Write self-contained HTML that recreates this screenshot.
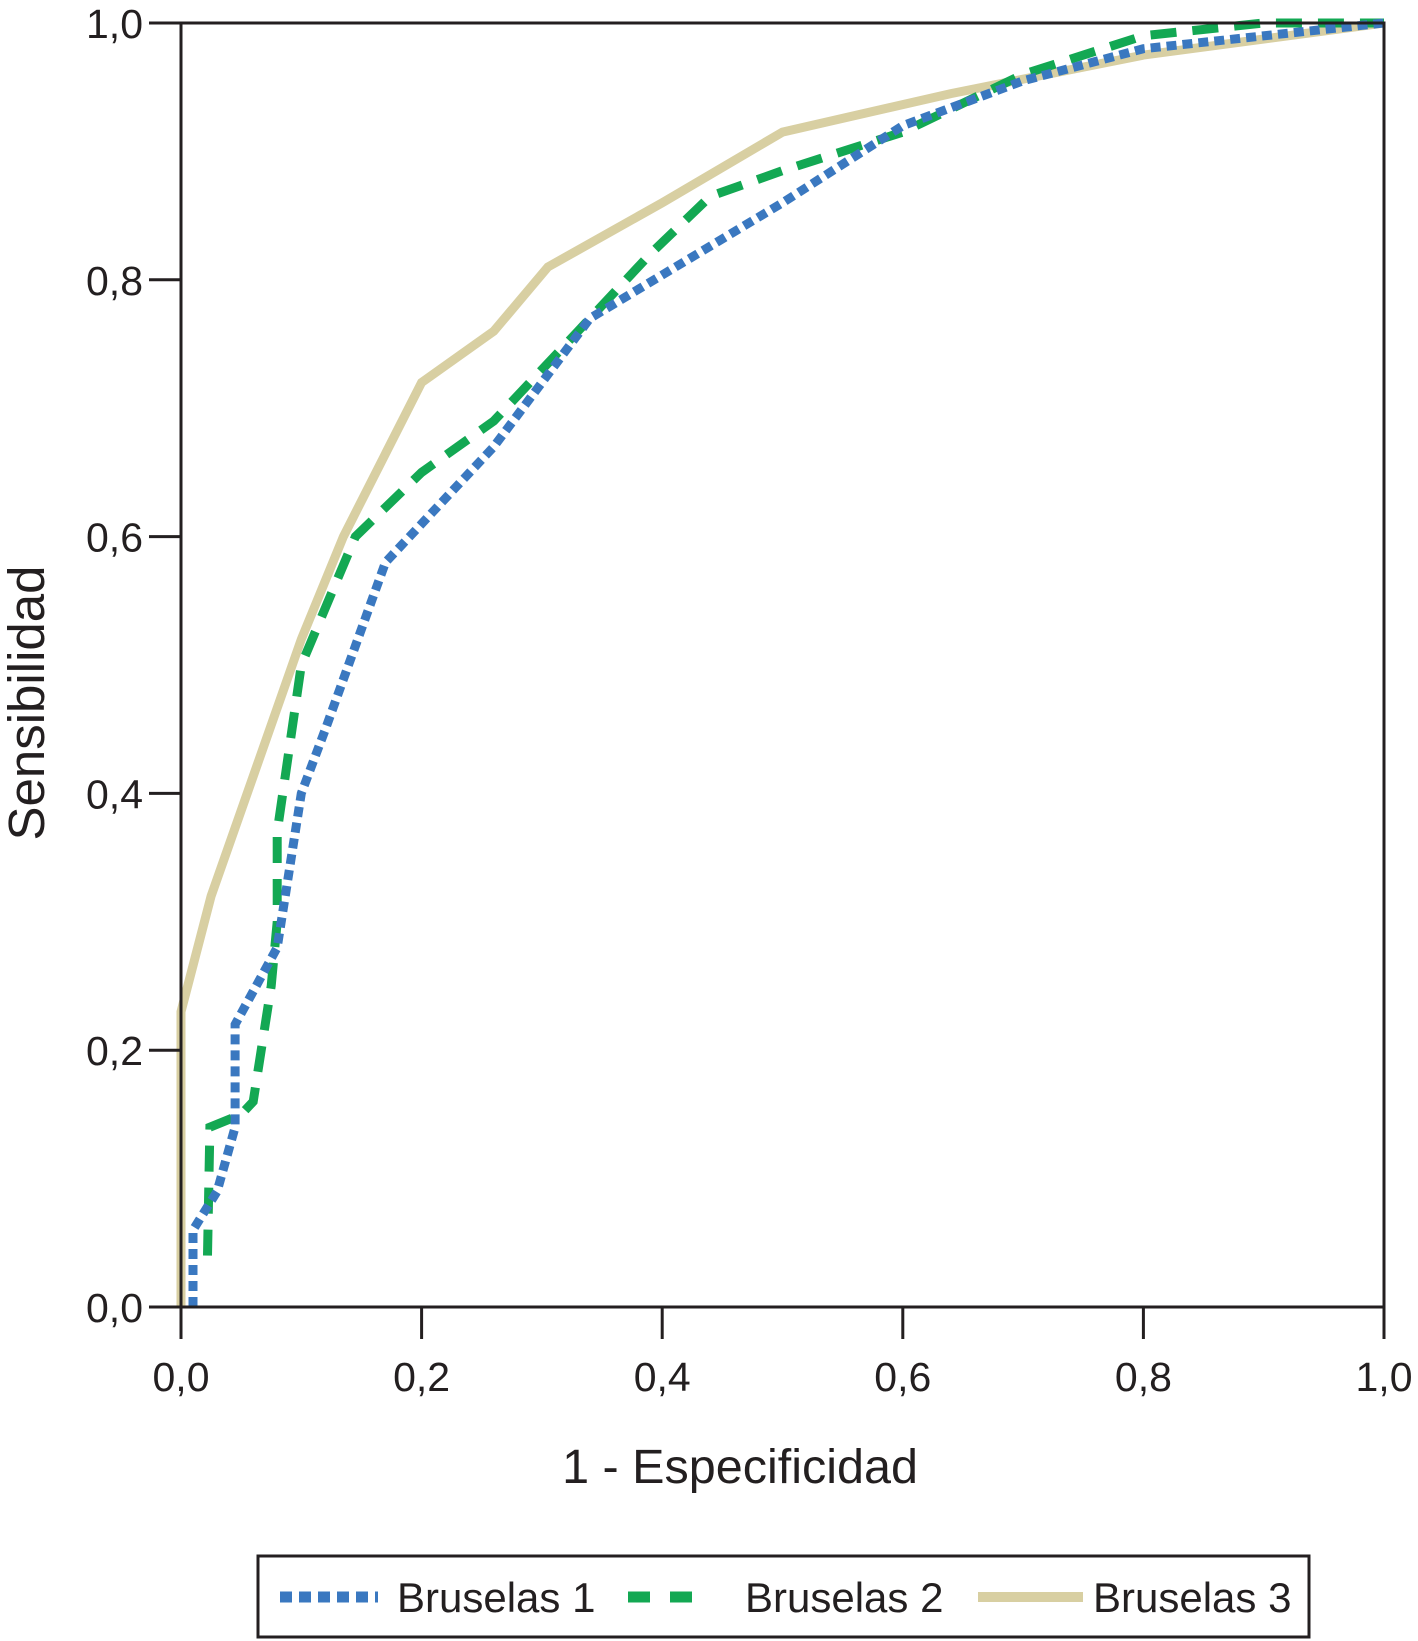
<!DOCTYPE html>
<html><head><meta charset="utf-8"><style>
html,body{margin:0;padding:0;background:#fff;}
svg{display:block;font-family:"Liberation Sans",Arial,sans-serif;}
</style></head><body>
<svg id="chart" width="1418" height="1641" viewBox="0 0 1418 1641">
<g id="plot"></g>
<g id="axes"></g>
<text x="740" y="1483" font-size="48.5" text-anchor="middle" fill="#231f20">1 - Especificidad</text>
<text transform="translate(44,703) rotate(-90)" font-size="51" text-anchor="middle" fill="#231f20">Sensibilidad</text>
<g>
<rect x="258" y="1556" width="1051" height="81" fill="#fff" stroke="#231f20" stroke-width="3"/>
<g>
<line x1="280" y1="1597" x2="378" y2="1597" stroke="#3a78c0" stroke-width="11" stroke-dasharray="12,7"/>
<text x="397" y="1612" font-size="42" fill="#231f20">Bruselas 1</text></g>
<g>
<line x1="628" y1="1597" x2="711" y2="1597" stroke="#13a853" stroke-width="11" stroke-dasharray="22,20"/>
<text x="745" y="1612" font-size="42" fill="#231f20">Bruselas 2</text></g>
<g>
<line x1="978" y1="1597" x2="1083" y2="1597" stroke="#d8cfa2" stroke-width="10"/>
<text x="1093" y="1612" font-size="42" fill="#231f20">Bruselas 3</text></g>
</g>
</svg>
<script>
const ticks=[0,0.2,0.4,0.6,0.8,1.0];
const tickLabels=["0,0","0,2","0,4","0,6","0,8","1,0"];
const b1x=[0.01,0.01,0.03,0.045,0.045,0.08,0.1,0.12,0.17,0.2,0.26,0.34,0.5,0.6,0.7,0.8,1];
const b1y=[0,0.06,0.09,0.14,0.22,0.28,0.4,0.45,0.58,0.61,0.67,0.77,0.86,0.92,0.955,0.98,1];
const b2x=[0.022,0.024,0.05,0.06,0.075,0.08,0.08,0.1,0.145,0.2,0.26,0.33,0.39,0.44,0.5,0.6,0.7,0.8,0.9,1];
const b2y=[0.04,0.14,0.15,0.16,0.25,0.3,0.37,0.5,0.6,0.65,0.69,0.76,0.82,0.865,0.885,0.915,0.96,0.99,1,1];
const b3x=[0,0,0.025,0.055,0.1,0.135,0.2,0.26,0.305,0.4,0.5,0.64,0.8,1];
const b3y=[0,0.23,0.32,0.4,0.52,0.6,0.72,0.76,0.81,0.86,0.915,0.945,0.975,1];
const X0=181,X1=1384,Y0=1307,Y1=23;
const sx=v=>X0+v*(X1-X0), sy=v=>Y0-v*(Y0-Y1);
const NS="http://www.w3.org/2000/svg";
const plot=document.getElementById('plot'), axes=document.getElementById('axes');
function mk(tag,attrs,parent){const e=document.createElementNS(NS,tag);for(const k in attrs)e.setAttribute(k,attrs[k]);parent.appendChild(e);return e;}
function series(xs,ys,color,w,dash,name){
  const pts=xs.map((x,i)=>sx(x).toFixed(1)+","+sy(ys[i]).toFixed(1)).join(" ");
  const p=mk('polyline',{points:pts,fill:'none',stroke:color,'stroke-width':w,'stroke-linejoin':'miter'},plot);
  if(dash)p.setAttribute('stroke-dasharray',dash);
  
  
}
series(b3x,b3y,'#d8cfa2',9,null,'line-bruselas-3');
series(b2x,b2y,'#13a853',9,'26,16','line-bruselas-2');
series(b1x,b1y,'#3a78c0',9,'10,6','line-bruselas-1');
const frame=mk('rect',{x:X0,y:Y1,width:X1-X0,height:Y0-Y1,fill:'none',stroke:'#231f20','stroke-width':3},axes);


ticks.forEach((t,i)=>{
  const tx=mk('line',{x1:sx(t),x2:sx(t),y1:Y0,y2:Y0+32,stroke:'#231f20','stroke-width':3},axes);
  
  
  const lx=mk('text',{x:sx(t),y:1391,'font-size':41,'text-anchor':'middle',fill:'#231f20'},axes);
  lx.textContent=tickLabels[i];
  
  
  const ty=mk('line',{x1:X0-32,x2:X0,y1:sy(t),y2:sy(t),stroke:'#231f20','stroke-width':3},axes);
  
  
  const ly=mk('text',{x:X0-38,y:sy(t)+15,'font-size':41,'text-anchor':'end',fill:'#231f20'},axes);
  ly.textContent=tickLabels[i];
  
  
});
</script>
</body></html>
